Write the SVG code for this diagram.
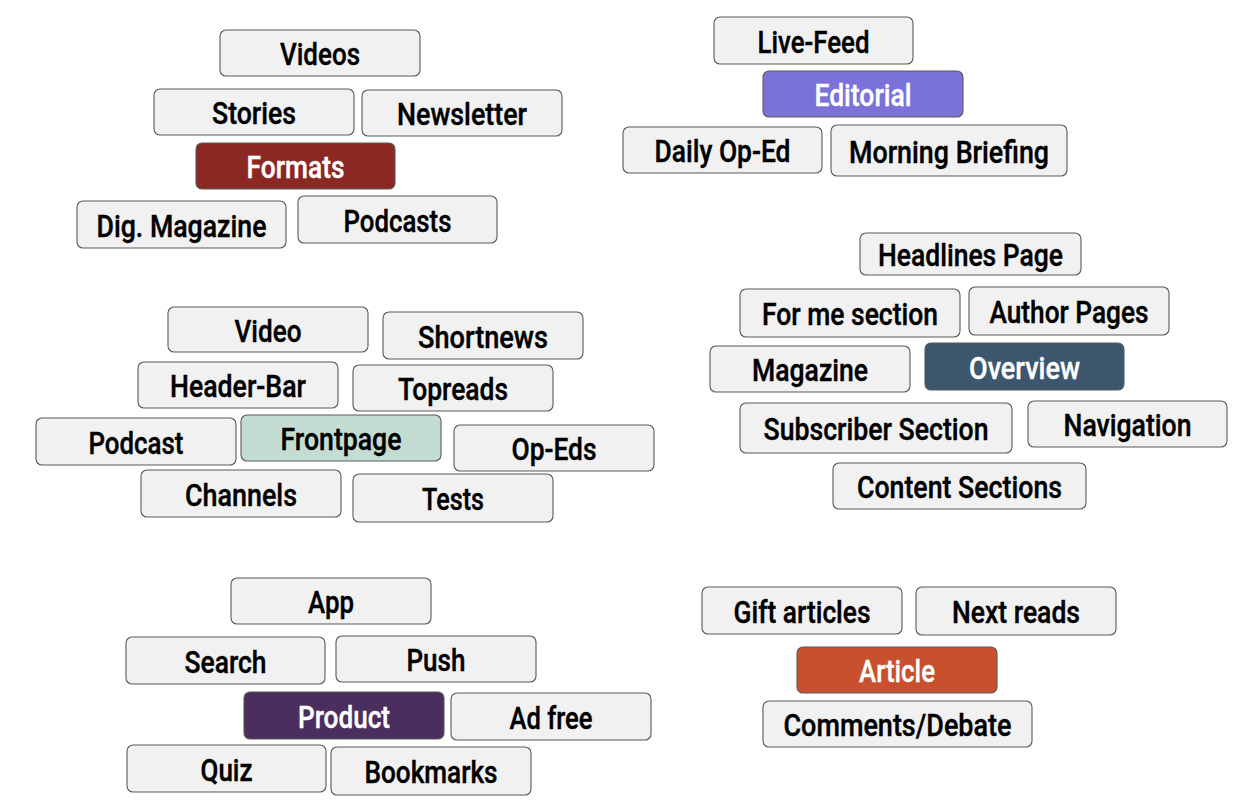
<svg xmlns="http://www.w3.org/2000/svg" width="1254" height="812" viewBox="0 0 1254 812">
<style>
.b{fill:#f1f1f1;stroke:#5a5a5a;stroke-width:1.1}
.t{font-family:Roboto,"Liberation Sans",sans-serif;font-weight:500;font-size:31px;text-anchor:middle;fill:#000;stroke:#000;stroke-width:0.4}
.w{fill:#fff;stroke:#fff}
</style>
<rect width="1254" height="812" fill="#fff"/>
<g id="connectors"/>
<!-- Formats cluster -->
<g id="n-videos"><rect class="b" x="220" y="30" width="200" height="46" rx="6"/><text class="t" x="320" y="65" textLength="80" lengthAdjust="spacingAndGlyphs">Videos</text></g>
<g id="n-stories"><rect class="b" x="154" y="89" width="200" height="46" rx="6"/><text class="t" x="254" y="124" textLength="84" lengthAdjust="spacingAndGlyphs">Stories</text></g>
<g id="n-newsletter"><rect class="b" x="362" y="90" width="200" height="46" rx="6"/><text class="t" x="462" y="125" textLength="130" lengthAdjust="spacingAndGlyphs">Newsletter</text></g>
<g id="n-formats"><rect class="b" x="196" y="143" width="199" height="46" rx="6" style="fill:#8b2823"/><text class="t w" x="295.5" y="178" textLength="98" lengthAdjust="spacingAndGlyphs">Formats</text></g>
<g id="n-dig-magazine"><rect class="b" x="77" y="201" width="209" height="47" rx="6"/><text class="t" x="181.5" y="237" textLength="170" lengthAdjust="spacingAndGlyphs">Dig. Magazine</text></g>
<g id="n-podcasts"><rect class="b" x="298" y="196" width="199" height="47" rx="6"/><text class="t" x="397.5" y="232" textLength="108" lengthAdjust="spacingAndGlyphs">Podcasts</text></g>
<!-- Editorial cluster -->
<g id="n-live-feed"><rect class="b" x="714" y="17" width="199" height="47" rx="6"/><text class="t" x="813.5" y="53" textLength="112" lengthAdjust="spacingAndGlyphs">Live-Feed</text></g>
<g id="n-editorial"><rect class="b" x="763" y="71" width="200" height="46" rx="6" style="fill:#7a71d9"/><text class="t w" x="863" y="106" textLength="97" lengthAdjust="spacingAndGlyphs">Editorial</text></g>
<g id="n-daily-op-ed"><rect class="b" x="623" y="127" width="199" height="46" rx="6"/><text class="t" x="722.5" y="162" textLength="136" lengthAdjust="spacingAndGlyphs">Daily Op-Ed</text></g>
<g id="n-morning-briefing"><rect class="b" x="831" y="125" width="236" height="51" rx="6"/><text class="t" x="949" y="163" textLength="200" lengthAdjust="spacingAndGlyphs">Morning Briefing</text></g>
<!-- Overview cluster -->
<g id="n-headlines-page"><rect class="b" x="860" y="233" width="221" height="42" rx="6"/><text class="t" x="970.5" y="266" textLength="185" lengthAdjust="spacingAndGlyphs">Headlines Page</text></g>
<g id="n-for-me-section"><rect class="b" x="740" y="289" width="220" height="48" rx="6"/><text class="t" x="850" y="325" textLength="176" lengthAdjust="spacingAndGlyphs">For me section</text></g>
<g id="n-author-pages"><rect class="b" x="969" y="287" width="200" height="48" rx="6"/><text class="t" x="1069" y="323" textLength="159" lengthAdjust="spacingAndGlyphs">Author Pages</text></g>
<g id="n-magazine"><rect class="b" x="710" y="346" width="200" height="46" rx="6"/><text class="t" x="810" y="381" textLength="116" lengthAdjust="spacingAndGlyphs">Magazine</text></g>
<g id="n-overview"><rect class="b" x="925" y="343" width="199" height="47" rx="6" style="fill:#3c566e"/><text class="t w" x="1024.5" y="379" textLength="111" lengthAdjust="spacingAndGlyphs">Overview</text></g>
<g id="n-subscriber-section"><rect class="b" x="740" y="403" width="272" height="50" rx="6"/><text class="t" x="876" y="440" textLength="225" lengthAdjust="spacingAndGlyphs">Subscriber Section</text></g>
<g id="n-navigation"><rect class="b" x="1028" y="401" width="199" height="46" rx="6"/><text class="t" x="1127.5" y="436" textLength="128" lengthAdjust="spacingAndGlyphs">Navigation</text></g>
<g id="n-content-sections"><rect class="b" x="833" y="463" width="253" height="46" rx="6"/><text class="t" x="959.5" y="498" textLength="205" lengthAdjust="spacingAndGlyphs">Content Sections</text></g>
<!-- Frontpage cluster -->
<g id="n-video"><rect class="b" x="168" y="307" width="200" height="45" rx="6"/><text class="t" x="268" y="342" textLength="67" lengthAdjust="spacingAndGlyphs">Video</text></g>
<g id="n-shortnews"><rect class="b" x="383" y="312" width="200" height="47" rx="6"/><text class="t" x="483" y="348" textLength="130" lengthAdjust="spacingAndGlyphs">Shortnews</text></g>
<g id="n-header-bar"><rect class="b" x="138" y="362" width="200" height="46" rx="6"/><text class="t" x="238" y="397" textLength="136" lengthAdjust="spacingAndGlyphs">Header-Bar</text></g>
<g id="n-topreads"><rect class="b" x="353" y="365" width="200" height="46" rx="6"/><text class="t" x="453" y="400" textLength="110" lengthAdjust="spacingAndGlyphs">Topreads</text></g>
<g id="n-podcast"><rect class="b" x="36" y="418" width="200" height="47" rx="6"/><text class="t" x="136" y="454" textLength="95" lengthAdjust="spacingAndGlyphs">Podcast</text></g>
<g id="n-frontpage"><rect class="b" x="241" y="415" width="200" height="46" rx="6" style="fill:#c4ddd3"/><text class="t" x="341" y="450" textLength="121" lengthAdjust="spacingAndGlyphs">Frontpage</text></g>
<g id="n-op-eds"><rect class="b" x="454" y="425" width="200" height="46" rx="6"/><text class="t" x="554" y="460" textLength="85" lengthAdjust="spacingAndGlyphs">Op-Eds</text></g>
<g id="n-channels"><rect class="b" x="141" y="470" width="200" height="47" rx="6"/><text class="t" x="241" y="506" textLength="112" lengthAdjust="spacingAndGlyphs">Channels</text></g>
<g id="n-tests"><rect class="b" x="353" y="474" width="200" height="48" rx="6"/><text class="t" x="453" y="510" textLength="62" lengthAdjust="spacingAndGlyphs">Tests</text></g>
<!-- Product cluster -->
<g id="n-app"><rect class="b" x="231" y="578" width="200" height="46" rx="6"/><text class="t" x="331" y="613" textLength="46" lengthAdjust="spacingAndGlyphs">App</text></g>
<g id="n-search"><rect class="b" x="126" y="637" width="199" height="47" rx="6"/><text class="t" x="225.5" y="673" textLength="82" lengthAdjust="spacingAndGlyphs">Search</text></g>
<g id="n-push"><rect class="b" x="336" y="636" width="200" height="46" rx="6"/><text class="t" x="436" y="671" textLength="59" lengthAdjust="spacingAndGlyphs">Push</text></g>
<g id="n-product"><rect class="b" x="244" y="692" width="200" height="47" rx="6" style="fill:#4a2e5e"/><text class="t w" x="344" y="728" textLength="92" lengthAdjust="spacingAndGlyphs">Product</text></g>
<g id="n-ad-free"><rect class="b" x="451" y="693" width="200" height="47" rx="6"/><text class="t" x="551" y="729" textLength="83" lengthAdjust="spacingAndGlyphs">Ad free</text></g>
<g id="n-quiz"><rect class="b" x="127" y="745" width="199" height="47" rx="6"/><text class="t" x="226.5" y="781" textLength="52" lengthAdjust="spacingAndGlyphs">Quiz</text></g>
<g id="n-bookmarks"><rect class="b" x="331" y="747" width="200" height="48" rx="6"/><text class="t" x="431" y="783" textLength="133" lengthAdjust="spacingAndGlyphs">Bookmarks</text></g>
<!-- Article cluster -->
<g id="n-gift-articles"><rect class="b" x="702" y="587" width="200" height="47" rx="6"/><text class="t" x="802" y="623" textLength="137" lengthAdjust="spacingAndGlyphs">Gift articles</text></g>
<g id="n-next-reads"><rect class="b" x="916" y="587" width="200" height="48" rx="6"/><text class="t" x="1016" y="623" textLength="128" lengthAdjust="spacingAndGlyphs">Next reads</text></g>
<g id="n-article"><rect class="b" x="797" y="647" width="200" height="46" rx="6" style="fill:#c8502e"/><text class="t w" x="897" y="682" textLength="76" lengthAdjust="spacingAndGlyphs">Article</text></g>
<g id="n-comments-debate"><rect class="b" x="763" y="701" width="269" height="46" rx="6"/><text class="t" x="897.5" y="736" textLength="228" lengthAdjust="spacingAndGlyphs">Comments/Debate</text></g>
</svg>
